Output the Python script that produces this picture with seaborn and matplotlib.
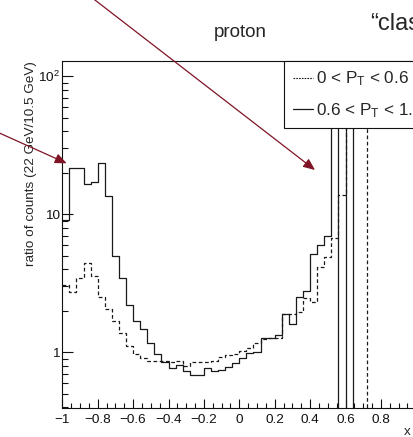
import numpy as np
import pandas as pd
import matplotlib
matplotlib.use("Agg")
import matplotlib.pyplot as plt
import seaborn as sns
from matplotlib.patches import FancyArrowPatch
from matplotlib.lines import Line2D
from matplotlib.ticker import MultipleLocator, LogLocator, NullFormatter, FixedLocator, FixedFormatter

# ---------------- data ----------------
x_range = (-1.0, 1.0)
n_bins = 50

# 0 < PT < 0.6 (dashed)
ratio_low_pt = [3.09, 2.72, 3.44, 4.46, 3.59, 2.53, 2.06, 1.69, 1.37, 1.12,
                0.98, 0.91, 0.87, 0.86, 0.86, 0.85, 0.86, 0.79, 0.85, 0.85,
                0.85, 0.87, 0.92, 0.95, 0.98, 1.02, 1.08, 1.16, 1.24, 1.28,
                1.27, 1.88, 1.88, 1.95, 2.48, 2.32, 4.17, 4.93, 6.7, 13.8,
                80.0, 80.0, 80.0, 0, 0, 0, 0, 0, 0, 0]

# 0.6 < PT < 1.6 (solid)
ratio_high_pt = [9.05, 21.6, 21.6, 16.6, 17.1, 23.4, 13.6, 5.0, 3.44, 2.2,
                 1.69, 1.48, 1.16, 0.967, 0.845, 0.775, 0.805, 0.736, 0.68, 0.688,
                 0.77, 0.728, 0.745, 0.78, 0.832, 0.905, 0.99, 1.0, 1.27, 1.28,
                 1.34, 1.9, 1.6, 2.52, 2.76, 5.16, 6.0, 6.92, 80.0, 0,
                 80.0, 0, 0, 0, 0, 0, 0, 0, 0, 0]

series_labels = ["0 < P$_\\mathregular{T}$ < 0.6", "0.6 < P$_\\mathregular{T}$ < 1.6"]
x_major_ticks = [-1, -0.8, -0.6, -0.4, -0.2, 0, 0.2, 0.4, 0.6, 0.8, 1]
x_tick_labels = ["\u22121", "\u22120.8", "\u22120.6", "\u22120.4", "\u22120.2", "0",
                 "0.2", "0.4", "0.6", "0.8", ""]
y_major_ticks = [1, 10, 100]
y_tick_labels = ["1", "10", "10$^{\\mathregular{2}}$"]
y_label = "ratio of counts (22 GeV/10.5 GeV)"
x_label = "x"
title_text = "proton"
corner_text = "\u201cclassical\u201d"

# ---------------- style ----------------
sns.set_style("ticks")
plt.rcParams["font.family"] = ["Liberation Sans", "DejaVu Sans"]
plt.rcParams["mathtext.fontset"] = "custom"
plt.rcParams["mathtext.rm"] = "Liberation Sans"
plt.rcParams["mathtext.it"] = "Liberation Sans:italic"
plt.rcParams["axes.linewidth"] = 0.8

W, H = 413, 437
fig = plt.figure(figsize=(W / 100, H / 100), dpi=100)
fig.patch.set_facecolor("white")

ax_left, ax_right = 62.3, 416.3
ax_top, ax_bottom = 61.0, 407.7
ax = fig.add_axes([ax_left / W, 1 - ax_bottom / H,
                   (ax_right - ax_left) / W, (ax_bottom - ax_top) / H])
ax.set_facecolor("white")

edges = np.linspace(x_range[0], x_range[1], n_bins + 1)
centers = 0.5 * (edges[:-1] + edges[1:])
df = pd.DataFrame({"x": centers, "low": ratio_low_pt, "high": ratio_high_pt})

sns.histplot(data=df, x="x", weights="low", bins=n_bins, binrange=x_range, element="step",
             fill=False, color="#1a1a1a", linewidth=0.9, linestyle=(0, (3, 2)), ax=ax)
sns.histplot(data=df, x="x", weights="high", bins=n_bins, binrange=x_range, element="step",
             fill=False, color="#1a1a1a", linewidth=0.9, linestyle="-", ax=ax)

ax.set_yscale("log")
ax.set_xlim(-1, 1)
ax.set_ylim(0.397, 129)

ax.xaxis.set_major_locator(FixedLocator(x_major_ticks))
ax.xaxis.set_major_formatter(FixedFormatter(x_tick_labels))
ax.xaxis.set_minor_locator(MultipleLocator(0.05))
ax.yaxis.set_major_locator(FixedLocator(y_major_ticks))
ax.yaxis.set_major_formatter(FixedFormatter(y_tick_labels))
ax.yaxis.set_minor_locator(LogLocator(base=10, subs=np.arange(2, 10)))
ax.yaxis.set_minor_formatter(NullFormatter())

ax.tick_params(which="both", direction="in", top=False, right=False,
               labelsize=9.7, colors="#111111", width=0.8)
ax.tick_params(axis="x", which="major", length=6.5, pad=4.5)
ax.tick_params(axis="x", which="minor", length=3.6)
ax.tick_params(axis="y", which="major", length=8, pad=2)
ax.tick_params(axis="y", which="minor", length=4.3)

for s in ["top", "left", "bottom", "right"]:
    ax.spines[s].set_visible(True)
    ax.spines[s].set_color("#111111")

ax.set_ylabel(y_label, loc="top", fontsize=9.7)
ax.yaxis.set_label_coords(-0.072, 1.0)
ax.set_xlabel(x_label, loc="right", fontsize=9.7)
ax.xaxis.set_label_coords(0.985, -0.054)

handles = [Line2D([], [], color="#1a1a1a", lw=0.8, ls=(0, (1.5, 1))),
           Line2D([], [], color="#1a1a1a", lw=0.9, ls="-")]
leg = ax.legend(handles, series_labels, loc="upper left",
                bbox_to_anchor=(284 / W, 1 - 61 / H), bbox_transform=fig.transFigure,
                frameon=True, fancybox=False, framealpha=1, edgecolor="#111111",
                borderpad=0.5, handlelength=1.17, handletextpad=0.22,
                labelspacing=0.75, fontsize=12.3, borderaxespad=0)
leg.get_frame().set_linewidth(0.8)
leg.set_zorder(5)

fig.text(240 / W, 1 - 36.7 / H, title_text, ha="center", va="baseline", fontsize=13.5)
fig.text(370 / W, 1 - 30 / H, corner_text, ha="left", va="baseline", fontsize=17)

arrow_color = "#7f1426"
for (x0, y0), (x1, y1) in [((-30, 119.8), (66.7, 163.3)), ((82, -10), (315, 170))]:
    arr = FancyArrowPatch((x0 / W, 1 - y0 / H), (x1 / W, 1 - y1 / H),
                          transform=fig.transFigure,
                          arrowstyle="-|>,head_length=7,head_width=3",
                          mutation_scale=1, color=arrow_color, lw=0.9,
                          shrinkA=0, shrinkB=0, zorder=10)
    fig.add_artist(arr)

fig.savefig("out.png", dpi=100)
